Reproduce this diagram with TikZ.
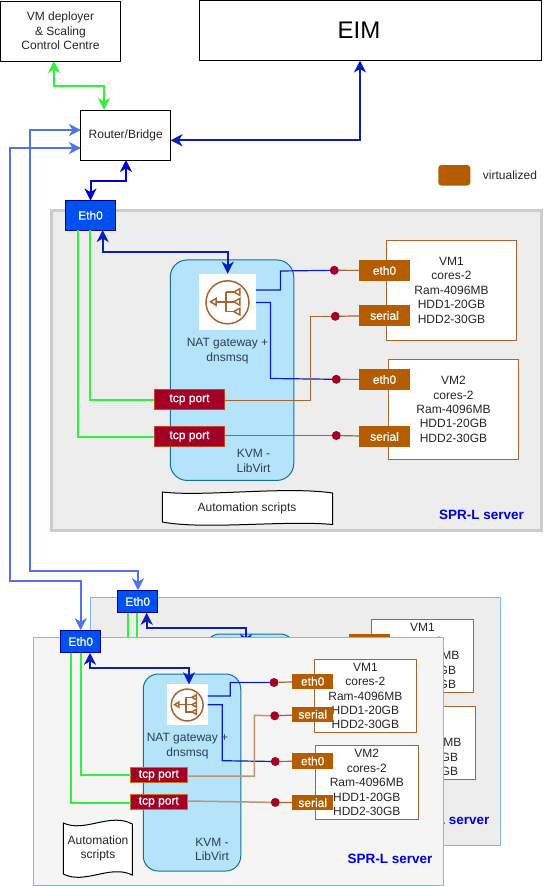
\documentclass[tikz,border=0pt]{standalone}
\usepackage{fontspec}
\setmainfont{Liberation Sans}
\newfontfamily\tagfont[FakeBold=0.8]{Liberation Sans}
\usetikzlibrary{arrows.meta}

\definecolor{brownbox}{HTML}{B35C00}
\definecolor{brownline}{HTML}{A8652F}
\definecolor{redbox}{HTML}{A20025}
\definecolor{kvmfill}{HTML}{B5E3F9}
\definecolor{kvmline}{HTML}{10739E}
\definecolor{kvmtext}{HTML}{2B3F55}
\definecolor{darkblue}{HTML}{0A1FB5}
\definecolor{lineblue}{HTML}{4F74E3}
\definecolor{greenline}{HTML}{33F03C}
\definecolor{ethblue}{HTML}{0050EF}
\definecolor{panelline}{HTML}{7DB9EC}

\tikzset{
  every node/.style = {outer sep=0pt, inner sep=0pt, align=center, font=\fontsize{12}{14.4}\selectfont, text=black!85},
  plainbox/.style = {draw=black, fill=white, line width=1pt},
  server/.style = {fill=black!7, line width=1.2pt},
  kvm/.style = {draw=kvmline, fill=kvmfill, line width=1pt, rounded corners=17pt},
  vmbox/.style = {draw=brownline, fill=white, line width=1pt},
  ethtag/.style = {fill=ethblue, draw=blue!60!black, line width=.8pt, text=white, font=\fontsize{12}{14.4}\tagfont},
  porttag/.style = {fill=redbox, draw=brownline!70!red, line width=.8pt, text=white, font=\fontsize{12}{14.4}\tagfont},
  vmtag/.style = {fill=brownbox, text=white, font=\fontsize{12}{14.4}\tagfont},
  dot/.style = {circle, fill=redbox, minimum size=9pt},
  icon/.style = {fill=white, minimum size=41pt},
  kvmlabel/.style = {text=kvmtext},
  serverlabel/.style = {text=blue!85!black, anchor=east, font=\fontsize{13.5}{14}\selectfont\bfseries},
  link/.style = {darkblue, line width=1.2pt},
  wire/.style = {brownline, line width=1.2pt},
  greenwire/.style = {greenline, line width=2.3pt},
  twoway/.style = {{Stealth[length=12pt,width=12pt,inset=3.5pt]}-{Stealth[length=12pt,width=12pt,inset=3.5pt]}, line width=2pt},
  natglyph/.pic = {
    \draw[brownline, line width=1.5pt] (0,0) circle (21.5);
    \draw[brownline, line width=1.5pt] (-11,-.5) -- (6,-.5) (-1.3,-10.3) -- (-1.3,9.3) -- (6,9.3) (-1.3,-10.3) -- (6,-10.3);
    \draw[brownline, line width=1.5pt] (-17,-.5) -- (-11.3,-4) -- (-11.3,3) -- cycle;
    \foreach \yy in {-10.3,-.5,9.3}
      \draw[brownline, line width=1.5pt] (6.3,\yy) -- (12.3,\yy-3.3) -- (12.3,\yy+3.3) -- cycle;
  }
}

\begin{document}
\begin{tikzpicture}[x=1pt, y=-1pt]
\useasboundingbox (0,0) rectangle (551,886);

% top row
\node (deployer) [plainbox, minimum width=120pt, minimum height=60pt] at (60.5,31) {VM deployer\\\& Scaling\\Control Centre};
\node (eim) [plainbox, minimum width=342pt, minimum height=60pt] at (370.5,30.5) {};
\node (eimtext) [text=black] at (359,30) {\fontsize{24}{28}\selectfont EIM};
\node (router) [plainbox, minimum width=89.5pt, minimum height=50pt] at (125.7,135) {Router/Bridge};

\node (legendbox) [fill=brownbox, rounded corners=3pt, minimum width=32pt, minimum height=20.5pt] at (454.3,175.3) {};
\node (legendtext) at (510,175) {virtualized};

% first server
\node (spr1) [server, draw=black!20, line width=3pt, minimum width=490pt, minimum height=320pt] at (296,370.5) {};
\node (eth1) [ethtag, minimum width=50pt, minimum height=29.5pt] at (90.5,215.3) {Eth0};
\node (kvm1) [kvm, minimum width=123.5pt, minimum height=220.5pt] at (232,370.2) {};
\node (nat1) [icon, minimum size=56.5pt] at (227.5,302) {};
\pic at (227.5,302.3) {natglyph};
\node (nattext1) [kvmlabel] at (227.5,351) {NAT gateway +\\dnsmsq};
\node (kvmtext1) [kvmlabel] at (253.5,461) {KVM -\\LibVirt};
\node (tcpa1) [porttag, minimum width=70.5pt, minimum height=20.5pt] at (189.5,399.5) {tcp port};
\node (tcpb1) [porttag, minimum width=70.5pt, minimum height=20.5pt] at (189.5,436.5) {tcp port};
\draw[line width=1pt, fill=white] (162.3,492) .. controls (205,497) and (285,486) .. (332.7,493) -- (332.7,524.5) .. controls (285,520) and (205,530) .. (162.3,522) -- cycle;
\node (scripts1) at (247,508) {Automation scripts};

\node (vma1) [vmbox, minimum width=130.5pt, minimum height=100pt] at (451.5,290.3) {VM1\\cores-2\\Ram-4096MB\\HDD1-20GB\\HDD2-30GB};
\node (vmb1) [vmbox, minimum width=130.5pt, minimum height=100pt] at (453.5,409.3) {VM2\\cores-2\\Ram-4096MB\\HDD1-20GB\\HDD2-30GB};
\node (etha1) [vmtag, minimum width=50.5pt, minimum height=20.5pt] at (384.5,270.5) {eth0};
\node (sera1) [vmtag, minimum width=50.5pt, minimum height=20.5pt] at (384.5,315.5) {serial};
\node (ethb1) [vmtag, minimum width=50.5pt, minimum height=20.5pt] at (384.5,379.5) {eth0};
\node (serb1) [vmtag, minimum width=50.5pt, minimum height=20.5pt] at (384.5,436.5) {serial};
\node (pa1) [dot] at (334.3,270.3) {};
\node (pb1) [dot] at (335.3,316.3) {};
\node (pc1) [dot] at (336.3,379.3) {};
\node (pd1) [dot] at (336.3,435.5) {};
\node (server1) [serverlabel] at (524,515) {SPR-L server};

\path [wire]
  (pa1) edge (etha1)
  (pb1) edge (sera1)
  (pc1) edge (ethb1)
  (pd1) edge (serb1);
\draw[link] (nat1.east |- 0,290) -- (280.4,290) -- (280.4,271) -- (pa1);
\draw[link] (nat1.east |- 0,302.5) -- (270.4,302.5) -- (270.4,378.5) -- (pc1);
\draw[wire] (tcpa1.east |- 0,400.7) -- (310.4,400.7) -- (310.4,316.3) -- (pb1);
\draw[wire] (tcpb1.east |- 0,435.5) -- (pd1);
\draw[greenwire] (eth1.south -| 90.3,0) -- (90.3,399.7) -- (tcpa1.west |- 0,399.7);
\draw[greenwire] (eth1.south -| 78,0) -- (78,436.7) -- (tcpb1.west |- 0,436.7);
\draw[twoway, darkblue] (eth1.south -| 102.7,0) -- (102.7,252.3) -- (227.7,252.3) -- (nat1.north -| 227.7,0);

% second server, back
\node (spr2) [server, draw=panelline, minimum width=410pt, minimum height=248.5pt] at (295.7,721.5) {};
\node (eth2) [ethtag, minimum width=40pt, minimum height=22.5pt] at (137.7,601.5) {Eth0};
\coordinate (glinea2) at (137.3,645);
\coordinate (glineb2) at (127.7,645);
\coordinate (natend2) at (246,646);
\node (kvm2) [kvm, minimum width=90pt, minimum height=60pt, rounded corners=15pt] at (250,664) {};
\node (vma2) [vmbox, minimum width=102.7pt, minimum height=73pt] at (422.4,655.8) {VM1\\cores-2\\Ram-4096MB\\HDD1-20GB\\HDD2-30GB};
\node (vmb2) [vmbox, minimum width=102.7pt, minimum height=73pt] at (424.4,742.8) {VM2\\cores-2\\Ram-4096MB\\HDD1-20GB\\HDD2-30GB};
\node (etha2) [vmtag, minimum width=40.5pt, minimum height=15.5pt] at (369.5,641.5) {eth0};
\node (server2) [serverlabel] at (489.5,819.5) {SPR-L server};
\draw[greenwire] (eth2.south -| 137.3,0) -- (glinea2);
\draw[greenwire] (eth2.south -| 127.7,0) -- (glineb2);
\draw[twoway, darkblue] (eth2.south -| 146.7,0) -- (146.7,628.3) -- (246,628.3) -- (natend2);

% second server, front
\node (spr3) [server, fill=black!4, draw=panelline, minimum width=410.5pt, minimum height=248pt] at (238.5,761.3) {};
\node (eth3) [ethtag, minimum width=40pt, minimum height=22.5pt] at (80.7,641.5) {Eth0};
\node (kvm3) [kvm, minimum width=97.5pt, minimum height=197pt, rounded corners=15pt] at (192,772.5) {};
\node (nat3) [icon] at (187.2,704.8) {};
\pic [scale=.74] at (187.2,705) {natglyph};
\node (nattext3) [kvmlabel] at (187.5,746) {NAT gateway +\\dnsmsq};
\node (kvmtext3) [kvmlabel] at (212,849.5) {KVM -\\LibVirt};
\node (tcpa3) [porttag, draw=brownline!60!orange, minimum width=56.5pt, minimum height=15pt] at (158.8,775.2) {tcp port};
\node (tcpb3) [porttag, draw=brownline!60!orange, minimum width=56.5pt, minimum height=15pt] at (158.8,802) {tcp port};
\draw[line width=1pt, fill=white] (63.3,823) .. controls (85,833) and (110,812) .. (132.3,824) -- (132.3,875) .. controls (110,864) and (85,885) .. (63.3,874) -- cycle;
\node (scripts3) at (98,848.5) {Automation\\scripts};

\node (vma3) [vmbox, minimum width=102.7pt, minimum height=73.4pt] at (365.4,696) {VM1\\cores-2\\Ram-4096MB\\HDD1-20GB\\HDD2-30GB};
\node (vmb3) [vmbox, minimum width=102.7pt, minimum height=73.4pt] at (366.8,782.6) {VM2\\cores-2\\Ram-4096MB\\HDD1-20GB\\HDD2-30GB};
\node (etha3) [vmtag, minimum width=40.7pt, minimum height=15.3pt] at (312.7,681.3) {eth0};
\node (sera3) [vmtag, minimum width=40.7pt, minimum height=15.3pt] at (312.7,714.3) {serial};
\node (ethb3) [vmtag, minimum width=40.7pt, minimum height=15.3pt] at (312.7,761) {eth0};
\node (serb3) [vmtag, minimum width=40.7pt, minimum height=15.3pt] at (312.7,802.7) {serial};
\node (pa3) [dot] at (274,682.5) {};
\node (pb3) [dot] at (274.7,715.8) {};
\node (pc3) [dot] at (275.3,761.5) {};
\node (pd3) [dot] at (275.3,802.4) {};
\node (server3) [serverlabel] at (432.5,859) {SPR-L server};

\path [wire]
  (pa3) edge (etha3)
  (pb3) edge (sera3)
  (pc3) edge (ethb3)
  (pd3) edge (serb3);
\draw[link] (nat3.east |- 0,696) -- (230.3,696) -- (230.3,682.4) -- (pa3);
\draw[link] (nat3.east |- 0,704.7) -- (222.3,704.7) -- (222.3,760.7) -- (pc3);
\draw[wire, brownline!70!white, line width=1.5pt] (tcpa3.east |- 0,776) -- (254.3,776) -- (254.3,715.3) -- (pb3);
\draw[wire, brownline!70!white, line width=1.5pt] (tcpb3.east |- 0,801) -- (pd3);
\draw[greenwire] (eth3.south -| 80.7,0) -- (80.7,775.3) -- (tcpa3.west |- 0,775.3);
\draw[greenwire] (eth3.south -| 70.7,0) -- (70.7,802.7) -- (tcpb3.west |- 0,802.7);
\draw[twoway, darkblue] (eth3.south -| 90,0) -- (90,668.3) -- (189,668.3) -- (nat3.north -| 189,0);

% links between the boxes
\draw[twoway, greenline] (deployer.south -| 54,0) -- (54,86) -- (104,86) -- (router.north -| 104,0);
\draw[twoway, darkblue] (router.east |- 0,140.3) -- (360,140.3) -- (360,86) -- (eim.south -| 360,0);
\draw[twoway, blue!80!black] (eth1.north) -- (90.5,180.5) -- (126,180.5) -- (router.south -| 126,0);
\draw[twoway, lineblue] (router.west |- 0,130) -- (30,130) -- (30,571) -- (138,571) -- (eth2.north -| 138,0);
\draw[twoway, lineblue] (router.west |- 0,148) -- (10,148) -- (10,580.7) -- (80.7,580.7) -- (eth3.north -| 80.7,0);
\end{tikzpicture}
\end{document}
